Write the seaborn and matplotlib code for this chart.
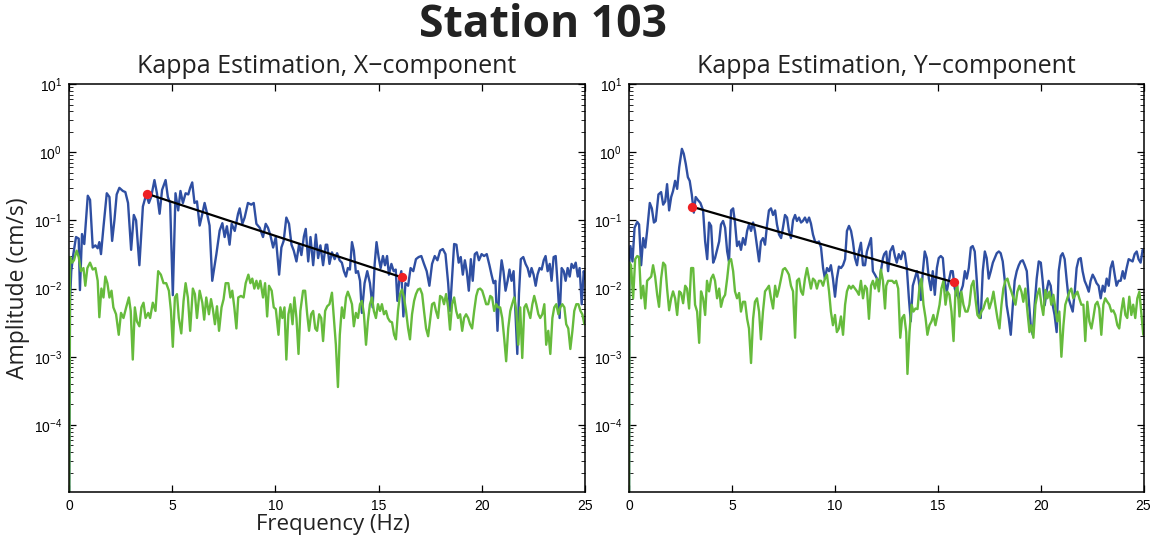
import numpy as np
import pandas as pd
import matplotlib
matplotlib.use("Agg")
import matplotlib.pyplot as plt
import seaborn as sns
from matplotlib.ticker import LogLocator, FixedLocator, LogFormatterSciNotation, NullFormatter

# ---------------- data ----------------
x_blue_f = [0.0, 0.05, 0.11, 0.21, 0.34, 0.47, 0.53, 0.63, 0.74, 0.91, 1.02, 1.15, 1.28, 1.39, 1.47, 1.55, 1.67, 1.83, 1.96, 2.09,
            2.20, 2.31, 2.44, 2.61, 2.73, 2.86, 3.01, 3.14, 3.25, 3.41, 3.58, 3.74, 3.87, 3.98, 4.14, 4.26, 4.39, 4.51, 4.68, 4.79,
            4.90, 5.03, 5.16, 5.29, 5.40, 5.52, 5.65, 5.78, 5.87, 5.97, 6.08, 6.20, 6.33, 6.46, 6.57, 6.68, 6.81, 6.94, 7.14, 7.30,
            7.43, 7.54, 7.65, 7.78, 7.88, 8.03, 8.19, 8.27, 8.40, 8.51, 8.67, 8.83, 8.95, 9.08, 9.24, 9.40, 9.53, 9.64, 9.76, 9.89,
            10.02, 10.18, 10.29, 10.40, 10.53, 10.66, 10.78, 10.89, 11.02, 11.15, 11.26, 11.38, 11.47, 11.59, 11.70, 11.83, 11.96, 12.07, 12.18, 12.31,
            12.44, 12.51, 12.62, 12.74, 12.87, 12.99, 13.11, 13.22, 13.32, 13.42, 13.51, 13.61, 13.71, 13.80, 13.90, 14.00, 14.10, 14.19, 14.32, 14.45,
            14.58, 14.71, 14.81, 14.90, 15.00, 15.10, 15.21, 15.31, 15.41, 15.50, 15.62, 15.73, 15.83, 15.91, 16.00, 16.10, 16.20, 16.30, 16.43, 16.55,
            16.68, 16.81, 16.94, 17.07, 17.20, 17.33, 17.46, 17.59, 17.72, 17.85, 17.98, 18.11, 18.24, 18.37, 18.46, 18.56, 18.66, 18.77, 18.88, 18.98,
            19.08, 19.18, 19.27, 19.37, 19.47, 19.56, 19.66, 19.76, 19.86, 19.99, 20.11, 20.24, 20.37, 20.47, 20.57, 20.66, 20.76, 20.86, 20.96, 21.05,
            21.15, 21.25, 21.34, 21.44, 21.54, 21.64, 21.72, 21.80, 21.89, 22.01, 22.12, 22.22, 22.32, 22.41, 22.51, 22.61, 22.70, 22.80, 22.90, 23.00,
            23.09, 23.19, 23.29, 23.38, 23.48, 23.58, 23.67, 23.77, 23.87, 23.97, 24.06, 24.16, 24.26, 24.35, 24.45, 24.55, 24.65, 24.74, 24.84, 24.94, 25.0]
x_blue_a = [1e-6, 0.0066, 0.018, 0.032, 0.057, 0.054, 0.0095, 0.063, 0.045, 0.23, 0.20, 0.040, 0.043, 0.039, 0.048, 0.032, 0.080, 0.25, 0.22, 0.050,
            0.10, 0.24, 0.30, 0.27, 0.26, 0.18, 0.037, 0.12, 0.10, 0.022, 0.16, 0.24, 0.18, 0.22, 0.39, 0.25, 0.125, 0.28, 0.39, 0.22,
            0.18, 0.008, 0.25, 0.14, 0.27, 0.18, 0.25, 0.24, 0.30, 0.36, 0.18, 0.19, 0.084, 0.125, 0.18, 0.13, 0.084, 0.013, 0.032, 0.071,
            0.091, 0.057, 0.082, 0.044, 0.089, 0.070, 0.125, 0.15, 0.089, 0.11, 0.18, 0.17, 0.18, 0.089, 0.078, 0.057, 0.089, 0.078, 0.060, 0.040,
            0.057, 0.016, 0.040, 0.050, 0.11, 0.089, 0.044, 0.036, 0.025, 0.045, 0.031, 0.058, 0.075, 0.025, 0.057, 0.022, 0.062, 0.028, 0.043, 0.022,
            0.044, 0.044, 0.023, 0.034, 0.027, 0.033, 0.026, 0.024, 0.018, 0.015, 0.020, 0.019, 0.048, 0.036, 0.017, 0.018, 0.013, 0.0044, 0.012, 0.018,
            0.012, 0.0053, 0.023, 0.048, 0.029, 0.020, 0.030, 0.022, 0.030, 0.016, 0.023, 0.018, 0.019, 0.0066, 0.013, 0.018, 0.0039, 0.012, 0.011, 0.020,
            0.018, 0.027, 0.029, 0.030, 0.023, 0.018, 0.011, 0.023, 0.030, 0.026, 0.036, 0.038, 0.032, 0.012, 0.0047, 0.015, 0.045, 0.044, 0.024, 0.029,
            0.016, 0.026, 0.018, 0.0093, 0.027, 0.013, 0.032, 0.034, 0.026, 0.032, 0.030, 0.032, 0.022, 0.016, 0.012, 0.013, 0.0024, 0.012, 0.026, 0.018,
            0.0093, 0.013, 0.019, 0.013, 0.018, 0.0037, 0.0011, 0.0083, 0.027, 0.029, 0.023, 0.020, 0.015, 0.020, 0.016, 0.011, 0.016, 0.020, 0.019, 0.026,
            0.030, 0.018, 0.023, 0.013, 0.029, 0.030, 0.012, 0.0037, 0.020, 0.018, 0.013, 0.020, 0.015, 0.023, 0.020, 0.024, 0.015, 0.020, 0.0059, 0.018, 0.014]

x_green_f = [0.0, 0.05, 0.15, 0.24, 0.37, 0.47, 0.58, 0.70, 0.79, 0.89, 1.02, 1.15, 1.28, 1.39, 1.47, 1.57, 1.67, 1.76, 1.86, 1.96,
             2.06, 2.15, 2.28, 2.41, 2.52, 2.64, 2.77, 2.90, 2.99, 3.09, 3.19, 3.29, 3.41, 3.51, 3.61, 3.71, 3.84, 3.93, 4.06, 4.19,
             4.32, 4.45, 4.58, 4.71, 4.84, 4.94, 5.03, 5.13, 5.23, 5.32, 5.44, 5.55, 5.65, 5.76, 5.87, 6.00, 6.10, 6.20, 6.33, 6.46,
             6.55, 6.65, 6.78, 6.88, 6.97, 7.07, 7.17, 7.27, 7.39, 7.49, 7.59, 7.72, 7.82, 7.91, 8.01, 8.11, 8.20, 8.33, 8.46, 8.56,
             8.69, 8.79, 8.88, 8.98, 9.08, 9.17, 9.27, 9.40, 9.50, 9.60, 9.69, 9.82, 9.92, 10.02, 10.15, 10.24, 10.34, 10.44, 10.53, 10.63,
             10.73, 10.83, 10.92, 11.02, 11.12, 11.21, 11.34, 11.44, 11.54, 11.63, 11.73, 11.83, 11.93, 12.02, 12.12, 12.22, 12.31, 12.41, 12.51, 12.62,
             12.74, 12.83, 12.93, 13.03, 13.12, 13.22, 13.32, 13.42, 13.51, 13.61, 13.71, 13.80, 13.90, 14.00, 14.10, 14.19, 14.29, 14.39, 14.48, 14.58,
             14.68, 14.77, 14.87, 14.97, 15.07, 15.16, 15.26, 15.36, 15.45, 15.55, 15.65, 15.75, 15.84, 15.94, 16.04, 16.13, 16.23, 16.33, 16.43, 16.52,
             16.62, 16.72, 16.81, 16.91, 17.01, 17.11, 17.20, 17.30, 17.40, 17.49, 17.59, 17.69, 17.78, 17.88, 17.98, 18.08, 18.17, 18.27, 18.37, 18.46,
             18.56, 18.66, 18.76, 18.85, 18.95, 19.05, 19.14, 19.24, 19.34, 19.43, 19.53, 19.63, 19.73, 19.82, 19.92, 20.02, 20.12, 20.21, 20.31, 20.41,
             20.50, 20.60, 20.70, 20.79, 20.89, 20.99, 21.09, 21.18, 21.28, 21.38, 21.47, 21.57, 21.67, 21.77, 21.86, 21.96, 22.06, 22.15, 22.25, 22.35,
             22.45, 22.54, 22.64, 22.74, 22.83, 22.93, 23.03, 23.12, 23.22, 23.32, 23.42, 23.51, 23.61, 23.71, 23.80, 23.90, 24.00, 24.09, 24.19, 24.29,
             24.39, 24.48, 24.58, 24.68, 24.78, 24.87, 24.97]
x_green_a = [1e-6, 0.029, 0.024, 0.026, 0.036, 0.029, 0.018, 0.020, 0.011, 0.020, 0.024, 0.019, 0.020, 0.013, 0.0038, 0.010, 0.0074, 0.015, 0.012, 0.0074,
             0.0093, 0.0053, 0.0042, 0.0021, 0.0044, 0.0037, 0.0053, 0.0074, 0.0047, 0.00091, 0.0053, 0.0033, 0.0028, 0.0053, 0.0062, 0.0037, 0.0044, 0.0037, 0.0062, 0.0047,
             0.018, 0.016, 0.012, 0.012, 0.0093, 0.0047, 0.0014, 0.0074, 0.0083, 0.0037, 0.0022, 0.0066, 0.012, 0.0074, 0.0024, 0.010, 0.0083, 0.0037, 0.0093, 0.0062,
             0.0035, 0.0074, 0.0042, 0.0070, 0.0050, 0.0030, 0.0055, 0.0024, 0.0053, 0.0070, 0.012, 0.012, 0.0074, 0.0093, 0.0053, 0.0026, 0.0074, 0.0078, 0.0074, 0.012,
             0.016, 0.012, 0.014, 0.010, 0.013, 0.010, 0.013, 0.0074, 0.012, 0.0039, 0.011, 0.0093, 0.0053, 0.0050, 0.0021, 0.0053, 0.0037, 0.0053, 0.00091, 0.0042,
             0.0059, 0.0030, 0.0074, 0.0037, 0.0011, 0.0047, 0.0093, 0.0093, 0.0042, 0.0024, 0.0042, 0.0047, 0.0026, 0.0024, 0.0042, 0.0037, 0.0017, 0.0047, 0.0055, 0.0059,
             0.0087, 0.0037, 0.0015, 0.00036, 0.0021, 0.0053, 0.0037, 0.0074, 0.0090, 0.0074, 0.0059, 0.0028, 0.0044, 0.0037, 0.0059, 0.0066, 0.0042, 0.0015, 0.0033, 0.0059,
             0.0074, 0.0047, 0.0037, 0.0059, 0.0047, 0.0059, 0.0042, 0.0047, 0.0037, 0.0033, 0.0032, 0.0021, 0.0018, 0.0047, 0.0083, 0.0097, 0.0074, 0.0047, 0.0026, 0.0018,
             0.0042, 0.0066, 0.0083, 0.0097, 0.010, 0.0083, 0.0047, 0.0026, 0.0020, 0.0033, 0.0059, 0.0062, 0.0047, 0.0037, 0.0078, 0.0074, 0.0059, 0.0083, 0.0053, 0.0025,
             0.0059, 0.0074, 0.0047, 0.0037, 0.0042, 0.0024, 0.0037, 0.0042, 0.0037, 0.0030, 0.0026, 0.0047, 0.0078, 0.0097, 0.010, 0.0093, 0.0074, 0.0059, 0.0059, 0.0078,
             0.0074, 0.0047, 0.0059, 0.0053, 0.0053, 0.0037, 0.0018, 0.00086, 0.0026, 0.0047, 0.0059, 0.0074, 0.0047, 0.0015, 0.0053, 0.00096, 0.0053, 0.0059, 0.0047, 0.0037,
             0.0059, 0.0078, 0.0059, 0.0042, 0.0037, 0.0042, 0.0059, 0.0015, 0.0024, 0.0011, 0.0037, 0.0053, 0.0059, 0.0042, 0.0053, 0.0059, 0.0053, 0.0030, 0.0026, 0.0013,
             0.0024, 0.0047, 0.0059, 0.0059, 0.0047, 0.0042, 0.0030]

y_blue_f = [0.0, 0.02, 0.07, 0.17, 0.27, 0.40, 0.49, 0.59, 0.69, 0.79, 0.88, 1.01, 1.11, 1.21, 1.30, 1.43, 1.56, 1.66, 1.76, 1.85,
            1.95, 2.05, 2.14, 2.24, 2.34, 2.44, 2.57, 2.66, 2.76, 2.86, 2.95, 3.05, 3.15, 3.24, 3.34, 3.47, 3.60, 3.70, 3.80, 3.89,
            3.99, 4.09, 4.18, 4.28, 4.38, 4.47, 4.57, 4.67, 4.77, 4.86, 4.96, 5.06, 5.15, 5.25, 5.35, 5.44, 5.54, 5.64, 5.74, 5.83,
            5.93, 6.03, 6.12, 6.22, 6.32, 6.41, 6.51, 6.61, 6.71, 6.80, 6.90, 7.00, 7.10, 7.19, 7.29, 7.39, 7.48, 7.58, 7.68, 7.77,
            7.87, 7.97, 8.07, 8.16, 8.26, 8.36, 8.45, 8.55, 8.65, 8.75, 8.84, 8.94, 9.04, 9.13, 9.23, 9.33, 9.43, 9.52, 9.62, 9.72,
            9.81, 9.91, 10.01, 10.10, 10.20, 10.30, 10.40, 10.50, 10.59, 10.69, 10.79, 10.88, 10.98, 11.08, 11.17, 11.27, 11.37, 11.47, 11.56, 11.66,
            11.76, 11.85, 11.95, 12.05, 12.14, 12.24, 12.34, 12.40, 12.50, 12.59, 12.69, 12.82, 12.92, 13.01, 13.11, 13.21, 13.31, 13.40, 13.50, 13.60,
            13.69, 13.79, 13.89, 13.99, 14.08, 14.18, 14.28, 14.37, 14.47, 14.57, 14.67, 14.76, 14.86, 14.96, 15.05, 15.15, 15.25, 15.34, 15.44, 15.54,
            15.64, 15.73, 15.83, 15.93, 16.02, 16.12, 16.22, 16.32, 16.41, 16.51, 16.61, 16.70, 16.80, 16.90, 16.99, 17.09, 17.19, 17.29, 17.38, 17.48,
            17.58, 17.68, 17.77, 17.87, 17.97, 18.06, 18.16, 18.26, 18.35, 18.45, 18.55, 18.65, 18.74, 18.84, 18.94, 19.03, 19.13, 19.23, 19.33, 19.42,
            19.52, 19.62, 19.71, 19.81, 19.91, 20.01, 20.10, 20.20, 20.30, 20.39, 20.49, 20.59, 20.68, 20.78, 20.88, 20.98, 21.07, 21.17, 21.27, 21.36,
            21.46, 21.56, 21.66, 21.75, 21.85, 21.95, 22.04, 22.14, 22.24, 22.34, 22.43, 22.53, 22.63, 22.72, 22.82, 22.92, 23.02, 23.11, 23.21, 23.31,
            23.40, 23.50, 23.60, 23.69, 23.79, 23.89, 23.99, 24.08, 24.18, 24.28, 24.37, 24.47, 24.57, 24.67, 24.76, 24.86, 24.96, 25.0]
y_blue_a = [1e-6, 0.025, 0.042, 0.025, 0.078, 0.095, 0.087, 0.022, 0.055, 0.040, 0.070, 0.18, 0.15, 0.093, 0.098, 0.24, 0.26, 0.17, 0.19, 0.34,
            0.14, 0.22, 0.27, 0.38, 0.29, 0.60, 1.12, 0.95, 0.67, 0.43, 0.38, 0.24, 0.13, 0.22, 0.20, 0.18, 0.14, 0.049, 0.027, 0.093,
            0.083, 0.024, 0.028, 0.037, 0.049, 0.087, 0.098, 0.078, 0.035, 0.025, 0.14, 0.15, 0.093, 0.042, 0.049, 0.037, 0.055, 0.044, 0.070, 0.087,
            0.070, 0.093, 0.070, 0.042, 0.025, 0.049, 0.055, 0.044, 0.087, 0.14, 0.15, 0.12, 0.14, 0.087, 0.062, 0.055, 0.078, 0.12, 0.11, 0.070,
            0.055, 0.10, 0.12, 0.098, 0.11, 0.093, 0.098, 0.11, 0.093, 0.11, 0.090, 0.062, 0.049, 0.047, 0.049, 0.040, 0.020, 0.014, 0.020, 0.018,
            0.022, 0.014, 0.0076, 0.014, 0.021, 0.020, 0.022, 0.027, 0.070, 0.083, 0.070, 0.049, 0.028, 0.022, 0.035, 0.047, 0.022, 0.022, 0.035, 0.044,
            0.055, 0.018, 0.016, 0.014, 0.011, 0.018, 0.028, 0.032, 0.035, 0.018, 0.035, 0.042, 0.030, 0.024, 0.032, 0.027, 0.035, 0.033, 0.020, 0.0072,
            0.0033, 0.011, 0.014, 0.018, 0.013, 0.0068, 0.018, 0.035, 0.028, 0.014, 0.0095, 0.018, 0.0081, 0.020, 0.028, 0.030, 0.028, 0.013, 0.0090, 0.013,
            0.018, 0.018, 0.010, 0.0081, 0.0072, 0.0090, 0.011, 0.018, 0.014, 0.020, 0.040, 0.042, 0.035, 0.013, 0.0046, 0.0037, 0.018, 0.035, 0.028, 0.014,
            0.018, 0.024, 0.028, 0.033, 0.035, 0.033, 0.025, 0.013, 0.0057, 0.0037, 0.0021, 0.0057, 0.013, 0.018, 0.022, 0.025, 0.026, 0.022, 0.018, 0.0072,
            0.0029, 0.0021, 0.0057, 0.014, 0.025, 0.024, 0.013, 0.0057, 0.0095, 0.013, 0.011, 0.0057, 0.0041, 0.0023, 0.018, 0.030, 0.033, 0.027, 0.013, 0.0072,
            0.0057, 0.0046, 0.0090, 0.020, 0.027, 0.028, 0.018, 0.013, 0.011, 0.0090, 0.013, 0.016, 0.014, 0.012, 0.011, 0.0072, 0.011, 0.0090, 0.014, 0.011,
            0.020, 0.025, 0.016, 0.011, 0.013, 0.013, 0.018, 0.014, 0.020, 0.027, 0.026, 0.025, 0.032, 0.035, 0.027, 0.024, 0.037, 0.035]

y_green_f = [0.0, 0.02, 0.10, 0.20, 0.30, 0.40, 0.49, 0.59, 0.69, 0.79, 0.88, 0.98, 1.08, 1.17, 1.27, 1.37, 1.46, 1.56, 1.66, 1.76,
             1.85, 1.95, 2.05, 2.14, 2.24, 2.34, 2.44, 2.53, 2.63, 2.73, 2.82, 2.92, 3.02, 3.12, 3.21, 3.31, 3.41, 3.50, 3.60, 3.70,
             3.79, 3.89, 3.99, 4.09, 4.18, 4.28, 4.38, 4.47, 4.57, 4.67, 4.77, 4.86, 4.96, 5.06, 5.15, 5.25, 5.35, 5.44, 5.54, 5.64,
             5.74, 5.83, 5.93, 6.03, 6.12, 6.22, 6.32, 6.41, 6.51, 6.61, 6.71, 6.80, 6.90, 7.00, 7.10, 7.19, 7.29, 7.39, 7.48, 7.58,
             7.68, 7.77, 7.87, 7.97, 8.07, 8.16, 8.26, 8.36, 8.45, 8.55, 8.65, 8.75, 8.84, 8.94, 9.04, 9.13, 9.23, 9.33, 9.43, 9.52,
             9.62, 9.72, 9.81, 9.91, 10.01, 10.10, 10.20, 10.30, 10.40, 10.50, 10.59, 10.69, 10.79, 10.88, 10.98, 11.08, 11.17, 11.27, 11.37, 11.47,
             11.56, 11.66, 11.76, 11.85, 11.95, 12.05, 12.14, 12.24, 12.34, 12.44, 12.50, 12.59, 12.69, 12.79, 12.89, 12.98, 13.08, 13.18, 13.27, 13.37,
             13.47, 13.53, 13.63, 13.73, 13.82, 13.92, 14.02, 14.12, 14.21, 14.31, 14.41, 14.50, 14.60, 14.70, 14.79, 14.89, 14.99, 15.09, 15.18, 15.28,
             15.38, 15.47, 15.57, 15.67, 15.77, 15.86, 15.96, 16.06, 16.15, 16.25, 16.35, 16.45, 16.54, 16.64, 16.74, 16.83, 16.93, 17.03, 17.12, 17.22,
             17.32, 17.42, 17.51, 17.61, 17.71, 17.80, 17.90, 18.00, 18.10, 18.19, 18.29, 18.39, 18.48, 18.58, 18.68, 18.78, 18.87, 18.97, 19.07, 19.16,
             19.26, 19.36, 19.46, 19.55, 19.65, 19.75, 19.84, 19.94, 20.04, 20.13, 20.23, 20.33, 20.43, 20.52, 20.62, 20.72, 20.81, 20.91, 21.01, 21.11,
             21.20, 21.30, 21.40, 21.49, 21.59, 21.69, 21.79, 21.88, 21.98, 22.08, 22.17, 22.27, 22.37, 22.47, 22.56, 22.66, 22.76, 22.85, 22.95, 23.05,
             23.14, 23.24, 23.34, 23.44, 23.53, 23.63, 23.73, 23.82, 23.92, 24.02, 24.12, 24.21, 24.31, 24.41, 24.50, 24.60, 24.70, 24.80, 24.89, 24.99]
y_green_a = [1e-6, 0.024, 0.022, 0.0072, 0.027, 0.030, 0.029, 0.0072, 0.011, 0.0051, 0.013, 0.014, 0.015, 0.022, 0.015, 0.0081, 0.0054, 0.014, 0.024, 0.022,
             0.010, 0.0048, 0.0072, 0.0091, 0.0072, 0.0041, 0.0091, 0.0086, 0.0061, 0.011, 0.010, 0.0051, 0.020, 0.020, 0.0058, 0.0046, 0.0016, 0.0091, 0.0072, 0.0041,
             0.013, 0.0091, 0.014, 0.016, 0.013, 0.0072, 0.010, 0.0054, 0.0072, 0.0081, 0.014, 0.025, 0.027, 0.018, 0.0091, 0.0072, 0.0086, 0.0046, 0.0064, 0.0064,
             0.0036, 0.0026, 0.00081, 0.0036, 0.0064, 0.0072, 0.0046, 0.0018, 0.0046, 0.0091, 0.010, 0.011, 0.0072, 0.0051, 0.011, 0.0076, 0.010, 0.014, 0.019, 0.020,
             0.018, 0.016, 0.011, 0.0091, 0.0019, 0.013, 0.014, 0.0091, 0.0081, 0.014, 0.020, 0.014, 0.010, 0.014, 0.013, 0.010, 0.013, 0.013, 0.011, 0.014,
             0.016, 0.0091, 0.0046, 0.0029, 0.0041, 0.0023, 0.0026, 0.0039, 0.0021, 0.0058, 0.0091, 0.011, 0.010, 0.011, 0.010, 0.0091, 0.0081, 0.013, 0.0072, 0.011,
             0.010, 0.0036, 0.011, 0.013, 0.010, 0.014, 0.0091, 0.019, 0.013, 0.0051, 0.011, 0.013, 0.013, 0.013, 0.012, 0.013, 0.010, 0.0019, 0.0037, 0.0041,
             0.0023, 0.00056, 0.0023, 0.0058, 0.0046, 0.0051, 0.0050, 0.011, 0.014, 0.0058, 0.0037, 0.0021, 0.0029, 0.0033, 0.0041, 0.0029, 0.0041, 0.0058, 0.010, 0.013,
             0.0058, 0.0090, 0.0081, 0.0046, 0.0017, 0.0090, 0.011, 0.0039, 0.0090, 0.0058, 0.0046, 0.0046, 0.0058, 0.011, 0.013, 0.0072, 0.0041, 0.0037, 0.0046, 0.0051,
             0.0064, 0.0072, 0.0051, 0.0064, 0.0090, 0.0058, 0.0037, 0.0026, 0.0058, 0.010, 0.013, 0.014, 0.011, 0.0090, 0.0072, 0.0058, 0.0090, 0.011, 0.0090, 0.0064,
             0.010, 0.0046, 0.0023, 0.0029, 0.0019, 0.0058, 0.0081, 0.010, 0.0058, 0.0041, 0.0095, 0.0072, 0.0090, 0.0058, 0.0081, 0.0051, 0.0033, 0.0046, 0.0010, 0.0029,
             0.0058, 0.0072, 0.0090, 0.010, 0.0072, 0.0081, 0.0090, 0.0072, 0.0058, 0.0058, 0.0017, 0.0064, 0.0033, 0.0026, 0.0037, 0.0058, 0.0064, 0.0051, 0.0021, 0.0058,
             0.0072, 0.0064, 0.0058, 0.0046, 0.0048, 0.0041, 0.0029, 0.0026, 0.0046, 0.0072, 0.0041, 0.0037, 0.0076, 0.0041, 0.0058, 0.0037, 0.0072, 0.0090, 0.0046, 0.0021]

# kappa fit end points (frequency Hz, amplitude cm/s)
x_fit_f = [3.79, 16.13]
x_fit_a = [0.245, 0.0146]
y_fit_f = [3.08, 15.77]
y_fit_a = [0.158, 0.0124]

suptitle = "Station 103"
titles = ["Kappa Estimation, X\u2212component", "Kappa Estimation, Y\u2212component"]
x_ticks = [0, 5, 10, 15, 20, 25]
y_ticks = [1e-4, 1e-3, 1e-2, 1e-1, 1e0, 1e1]

# ---------------- style ----------------
sns.set_theme(style="ticks")
plt.rcParams["font.family"] = ["Liberation Sans", "DejaVu Sans"]
plt.rcParams["mathtext.fontset"] = "custom"
plt.rcParams["mathtext.rm"] = "Liberation Sans"
plt.rcParams["mathtext.it"] = "Liberation Sans:italic"
plt.rcParams["mathtext.bf"] = "Liberation Sans:bold"

BLUE = "#2f4fa2"
GREEN = "#66bb3c"
RED = "#ee2024"
TITLE_FONT = ["Open Sans", "DejaVu Sans"]

fig = plt.figure(figsize=(11.56, 5.36), dpi=100)
axL = fig.add_axes([69 / 1156, 44.3 / 536, 516 / 1156, 407.7 / 536])
axR = fig.add_axes([629 / 1156, 44.3 / 536, 514.5 / 1156, 407.7 / 536])

panels = [
    (axL, x_blue_f, x_blue_a, x_green_f, x_green_a, x_fit_f, x_fit_a, titles[0]),
    (axR, y_blue_f, y_blue_a, y_green_f, y_green_a, y_fit_f, y_fit_a, titles[1]),
]

for ax, bf, ba, gf, ga, ff, fa, ttl in panels:
    dfb = pd.DataFrame({"freq": bf, "amp": ba})
    dfg = pd.DataFrame({"freq": gf, "amp": ga})
    dff = pd.DataFrame({"freq": ff, "amp": fa})
    sns.lineplot(data=dfb, x="freq", y="amp", ax=ax, color=BLUE, lw=1.7,
                 estimator=None, sort=False, legend=False)
    sns.lineplot(data=dfg, x="freq", y="amp", ax=ax, color=GREEN, lw=1.7,
                 estimator=None, sort=False, legend=False)
    sns.lineplot(data=dff, x="freq", y="amp", ax=ax, color="black", lw=1.6,
                 estimator=None, sort=False, legend=False)
    sns.scatterplot(data=dff, x="freq", y="amp", ax=ax, color=RED, s=45,
                    edgecolor=RED, linewidth=0, zorder=5, legend=False)
    ax.set_yscale("log")
    ax.set_xlim(0, 25)
    ax.set_ylim(1.05e-5, 10)
    ax.xaxis.set_major_locator(FixedLocator(x_ticks))
    ax.yaxis.set_major_locator(FixedLocator(y_ticks))
    ax.yaxis.set_major_formatter(LogFormatterSciNotation())
    ax.yaxis.set_minor_locator(LogLocator(base=10, subs=np.arange(2, 10), numticks=20))
    ax.yaxis.set_minor_formatter(NullFormatter())
    ax.tick_params(axis="both", which="major", direction="in", length=5, width=0.9,
                   top=True, right=True, labelsize=10, colors="black", pad=5)
    ax.tick_params(axis="y", which="minor", direction="in", length=3, width=0.7,
                   left=True, right=True)
    for sp in ax.spines.values():
        sp.set_visible(True)
        sp.set_linewidth(1.1)
        sp.set_color("black")
    ax.set_facecolor("white")
    ax.set_xlabel("")
    ax.set_ylabel("")
    ax.set_title(ttl, fontsize=18, family=TITLE_FONT, pad=8, color="#222222")

axL.set_xlabel("Frequency (Hz)", fontsize=16, family=TITLE_FONT, color="#222222")
axL.xaxis.set_label_coords((333 - 69) / 516, -0.055, transform=axL.transAxes)
axL.xaxis.label.set_va("top")
axL.set_ylabel("Amplitude (cm/s)", fontsize=16.5, family=TITLE_FONT, labelpad=3, color="#222222")

fig.text(543 / 1156, (536 - 37) / 536, suptitle, ha="center", va="baseline",
         fontsize=32, fontweight="bold", family=TITLE_FONT, color="#222222")

fig.savefig("out.png", dpi=100, facecolor="white")
